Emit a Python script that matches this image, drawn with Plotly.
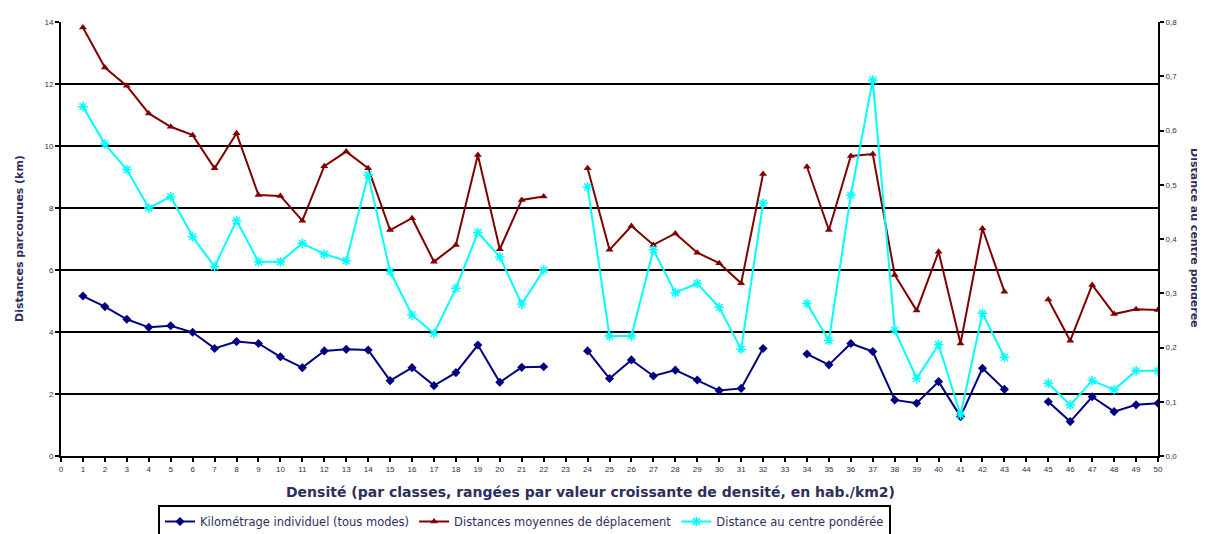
import plotly.graph_objects as go

classes = list(range(0, 51))

kilometrage = [None,
    5.16, 4.82, 4.41, 4.15, 4.20, 3.99, 3.47, 3.69, 3.63, 3.20,
    2.85, 3.39, 3.44, 3.42, 2.43, 2.85, 2.27, 2.69, 3.58, 2.38,
    2.86, 2.88, None, 3.39, 2.50, 3.10, 2.58, 2.77, 2.45, 2.11,
    2.18, 3.47, None, 3.29, 2.94, 3.63, 3.37, 1.81, 1.70, 2.40,
    1.27, 2.83, 2.15, None, 1.75, 1.11, 1.91, 1.43, 1.65, 1.70]

distances_moy = [None,
    13.82, 12.53, 11.94, 11.05, 10.62, 10.35, 9.28, 10.41, 8.42, 8.39,
    7.59, 9.35, 9.82, 9.28, 7.29, 7.67, 6.27, 6.81, 9.71, 6.67,
    8.26, 8.37, None, 9.28, 6.65, 7.42, 6.81, 7.18, 6.56, 6.22,
    5.57, 9.10, None, 9.33, 7.29, 9.68, 9.74, 5.84, 4.69, 6.59,
    3.63, 7.34, 5.30, None, 5.05, 3.72, 5.52, 4.58, 4.73, 4.71]

distance_centre = [None,
    0.644, 0.575, 0.528, 0.457, 0.478, 0.404, 0.349, 0.434, 0.358, 0.358,
    0.392, 0.372, 0.360, 0.518, 0.340, 0.260, 0.226, 0.309, 0.412, 0.367,
    0.280, 0.343, None, 0.496, 0.221, 0.221, 0.380, 0.301, 0.318, 0.274,
    0.197, 0.466, None, 0.281, 0.213, 0.481, 0.693, 0.232, 0.143, 0.205,
    0.076, 0.263, 0.182, None, 0.134, 0.094, 0.139, 0.122, 0.157, 0.157]

names = ["Kilométrage individuel (tous modes)",
         "Distances moyennes de déplacement",
         "Distance au centre pondérée"]

txt = "#2e2e5e"
font = "DejaVu Sans, Liberation Sans, Arial, sans-serif"
tickfont_family = "Liberation Sans, Arial, sans-serif"

fig = go.Figure()
fig.add_trace(go.Scatter(
    x=classes, y=kilometrage, name=names[0], mode="lines+markers",
    line=dict(color="#000080", width=2),
    marker=dict(symbol="diamond", size=7, color="#000080"),
    connectgaps=False, yaxis="y"))
fig.add_trace(go.Scatter(
    x=classes, y=distances_moy, name=names[1], mode="lines+markers",
    line=dict(color="#800000", width=2),
    marker=dict(symbol="triangle-up", size=7, color="#800000"),
    connectgaps=False, yaxis="y"))
fig.add_trace(go.Scatter(
    x=classes, y=distance_centre, name=names[2], mode="lines+markers",
    line=dict(color="#00FFFF", width=2),
    marker=dict(symbol="asterisk-open", size=8, color="#00FFFF",
                line=dict(color="#00FFFF", width=1.5)),
    connectgaps=False, yaxis="y2"))

# page has an 8px body margin: figure is drawn 8px right/down of the page origin
fig.update_layout(
    width=1197, height=526,
    margin=dict(l=53, r=47, t=14, b=78, autoexpand=False),
    paper_bgcolor="white", plot_bgcolor="white",
    font=dict(family=font, color=txt),
    showlegend=True,
    legend=dict(orientation="h", x=0.0884, y=-(505 - 456) / 434,
                xanchor="left", yanchor="top",
                bordercolor="black", borderwidth=2,
                font=dict(size=11.5, color=txt),
                itemwidth=30, tracegroupgap=0,
                bgcolor="white"),
    xaxis=dict(range=[0, 50], tickmode="array", tickvals=classes,
               ticktext=[str(c) for c in classes],
               ticks="outside", ticklen=4, tickwidth=1.5, tickcolor="black",
               showline=True, linecolor="black", linewidth=2,
               showgrid=False, zeroline=False,
               tickfont=dict(size=8, color=txt, family=tickfont_family)),
    yaxis=dict(range=[0, 14], dtick=2, tick0=0,
               ticks="outside", ticklen=4, tickwidth=1.5, tickcolor="black",
               showline=True, linecolor="black", linewidth=2,
               showgrid=True, gridcolor="black", gridwidth=2,
               zeroline=False,
               tickfont=dict(size=8, color=txt, family=tickfont_family)),
    yaxis2=dict(range=[0, 0.8], dtick=0.1, tick0=0, overlaying="y",
                side="right", tickformat=".1f",
                ticks="outside", ticklen=4, tickwidth=1.5, tickcolor="black",
                showline=True, linecolor="black", linewidth=2,
                showgrid=False, zeroline=False,
                tickfont=dict(size=8, color=txt, family=tickfont_family)),
    separators=", ",
    annotations=[
        dict(text="<b>Densité (par classes, rangées par valeur croissante de densité, en hab./km2)</b>",
             xref="paper", yref="paper", x=(590 - 61) / 1097, y=-(492 - 456) / 434,
             xanchor="center", yanchor="middle", showarrow=False,
             font=dict(size=14, color=txt)),
        dict(text="<b>Distances parcourues (km)</b>",
             xref="paper", yref="paper", x=-(61 - 19) / 1097, y=(456 - 239) / 434,
             xanchor="center", yanchor="middle", showarrow=False, textangle=-90,
             font=dict(size=11, color=txt)),
        dict(text="<b>Distance au centre pondérée</b>",
             xref="paper", yref="paper", x=(1194 - 61) / 1097, y=(456 - 238) / 434,
             xanchor="center", yanchor="middle", showarrow=False, textangle=90,
             font=dict(size=11, color=txt)),
    ],
)

fig.write_html("out.html")
